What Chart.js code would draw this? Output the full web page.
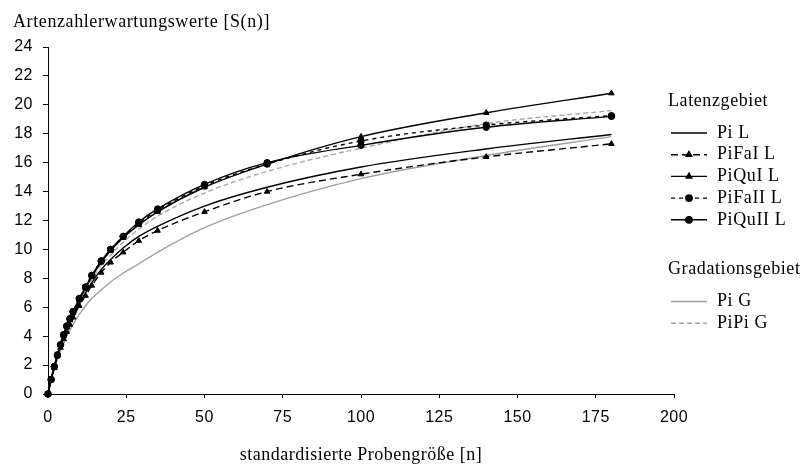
<!DOCTYPE html>
<html>
<head>
<meta charset="utf-8">
<title>Artenzahlerwartungswerte</title>
<script src="https://cdn.jsdelivr.net/npm/chart.js@4.4.0/dist/chart.umd.min.js"></script>
<style>
  html, body { margin: 0; padding: 0; background: #fff; }
</style>
</head>
<body>
<canvas id="chart" width="803" height="468"></canvas>
<script>
// standardisierte Probengröße n
const sampleSizes = [0, 1, 2, 3, 4, 5, 6, 7, 8, 10, 12, 14, 17, 20, 24, 29, 35, 50, 70, 100, 140, 180];

// Latenzgebiet
const piL     = [0, 1.0, 1.8, 2.6, 3.3, 3.9, 4.4, 4.9, 5.4, 6.2, 7.0, 7.7, 8.6, 9.3, 10.1, 10.9, 11.6, 13.0, 14.3, 15.7, 16.95, 17.95];
const piFaIL  = [0, 1.0, 1.8, 2.6, 3.2, 3.8, 4.3, 4.8, 5.3, 6.1, 6.8, 7.5, 8.4, 9.1, 9.8, 10.6, 11.3, 12.6, 14.0, 15.2, 16.4, 17.3];
const piQuIL  = [0, 1.0, 1.9, 2.7, 3.4, 4.0, 4.6, 5.1, 5.6, 6.5, 7.3, 8.1, 9.1, 9.9, 10.8, 11.7, 12.6, 14.3, 15.9, 17.8, 19.45, 20.8];
const piFaIIL = [0, 1.0, 1.9, 2.7, 3.4, 4.1, 4.7, 5.2, 5.7, 6.6, 7.4, 8.2, 9.2, 10.0, 10.9, 11.8, 12.7, 14.4, 15.9, 17.5, 18.6, 19.25];
const piQuIIL = [0, 1.0, 1.9, 2.7, 3.4, 4.1, 4.7, 5.2, 5.7, 6.6, 7.4, 8.2, 9.2, 10.0, 10.9, 11.9, 12.8, 14.5, 16.0, 17.2, 18.45, 19.2];

// Gradationsgebiet
const piG     = [0, 1.0, 1.7, 2.4, 3.0, 3.5, 4.0, 4.4, 4.8, 5.5, 6.1, 6.6, 7.2, 7.75, 8.35, 9.0, 9.8, 11.5, 13.1, 14.9, 16.5, 17.8];
const piPiG   = [0, 1.0, 1.9, 2.6, 3.3, 3.9, 4.5, 5.0, 5.5, 6.4, 7.2, 7.9, 8.9, 9.6, 10.5, 11.4, 12.3, 13.9, 15.4, 17.0, 18.7, 19.6];

const xTickValues = [0, 25, 50, 75, 100, 125, 150, 175, 200];
const yTickValues = [0, 2, 4, 6, 8, 10, 12, 14, 16, 18, 20, 22, 24];

const yTitle = 'Artenzahlerwartungswerte [S(n)]';
const xTitle = 'standardisierte Probengröße [n]';
const groupTitles = ['Latenzgebiet', 'Gradationsgebiet'];

const serifFont = '"Liberation Serif", "Times New Roman", serif';
const sansFont = '"Liberation Sans", Arial, sans-serif';

const toPoints = function(values) {
    return sampleSizes.map((n, i) => ({ x: n, y: values[i] }));
};

const series = [
    { label: 'Pi L',     data: piL,     group: 0, color: '#000', dash: [],     marker: false },
    { label: 'PiFaI L',  data: piFaIL,  group: 0, color: '#000', dash: [7, 4], marker: 'triangle' },
    { label: 'PiQuI L',  data: piQuIL,  group: 0, color: '#000', dash: [],     marker: 'triangle' },
    { label: 'PiFaII L', data: piFaIIL, group: 0, color: '#000', dash: [4, 4], marker: 'circle' },
    { label: 'PiQuII L', data: piQuIIL, group: 0, color: '#000', dash: [],     marker: 'circle' },
    { label: 'Pi G',     data: piG,     group: 1, color: '#a0a0a0', dash: [],     marker: false },
    { label: 'PiPi G',   data: piPiG,   group: 1, color: '#a8a8a8', dash: [5, 3], marker: false }
];

const datasets = series.map(s => ({
    label: s.label,
    data: toPoints(s.data),
    borderColor: s.color,
    backgroundColor: s.color,
    borderWidth: 1.4,
    borderDash: s.dash,
    pointStyle: s.marker || 'circle',
    pointRadius: s.marker ? 3.2 : 0,
    pointHoverRadius: 0,
    pointBorderWidth: 1,
    cubicInterpolationMode: 'monotone',
    clip: false
}));

// the reference text is a bit wider spaced than Liberation
const spacing = {
    id: 'spacing',
    beforeDraw(chart) {
        chart.ctx.letterSpacing = '0.5px';
    }
};

// y title top left + grouped legend on the right
const extraText = {
    id: 'extraText',
    afterDraw(chart) {
        const ctx = chart.ctx;
        ctx.save();
        ctx.letterSpacing = '0.6px';
        ctx.fillStyle = '#000';
        ctx.textBaseline = 'middle';
        ctx.textAlign = 'left';
        ctx.font = '18px ' + serifFont;
        ctx.fillText(yTitle, 13, 22);

        const headerX = 668, lineX0 = 671, lineX1 = 707, textX = 717;
        let y = 101;
        groupTitles.forEach((title, g) => {
            ctx.fillStyle = '#000';
            ctx.fillText(title, headerX, y);
            y += 32;
            series.forEach((s, i) => {
                if (s.group !== g) return;
                const ds = chart.data.datasets[i];
                ctx.strokeStyle = ds.borderColor;
                ctx.lineWidth = ds.borderWidth;
                ctx.setLineDash(ds.borderDash);
                ctx.beginPath();
                ctx.moveTo(lineX0, y);
                ctx.lineTo(lineX1, y);
                ctx.stroke();
                ctx.setLineDash([]);
                if (s.marker) {
                    ctx.fillStyle = ds.backgroundColor;
                    Chart.helpers.drawPoint(ctx, {
                        pointStyle: s.marker, radius: 3.2, rotation: 0, borderWidth: 1
                    }, (lineX0 + lineX1) / 2, y);
                }
                ctx.fillStyle = '#000';
                ctx.fillText(s.label, textX, y);
                y += 21.7;
            });
            y += 28;
        });
        ctx.restore();
    }
};

new Chart(document.getElementById('chart'), {
    type: 'line',
    data: { datasets: datasets },
    options: {
        responsive: false,
        animation: false,
        events: [],
        layout: { padding: { top: 47, right: 129, bottom: 0, left: 0 } },
        plugins: {
            legend: { display: false },
            tooltip: { enabled: false }
        },
        scales: {
            x: {
                type: 'linear',
                min: 0,
                max: 200,
                afterBuildTicks: scale => { scale.ticks = xTickValues.map(v => ({ value: v })); },
                afterFit: scale => { scale.height = 74; },
                grid: { drawOnChartArea: false, drawTicks: true, tickLength: 4, color: '#000' },
                border: { display: true, color: '#000', width: 1 },
                ticks: { color: '#000', font: { family: sansFont, size: 16 }, padding: 10, maxRotation: 0 },
                title: { display: true, text: xTitle, color: '#000', font: { family: serifFont, size: 18 }, padding: { top: 0, bottom: 2 } }
            },
            y: {
                type: 'linear',
                min: 0,
                max: 24,
                afterBuildTicks: scale => { scale.ticks = yTickValues.map(v => ({ value: v })); },
                afterFit: scale => { scale.width = 48; },
                grid: { drawOnChartArea: false, drawTicks: true, tickLength: 5, color: '#000' },
                border: { display: true, color: '#000', width: 1 },
                ticks: { color: '#000', font: { family: sansFont, size: 16 }, padding: 10 }
            }
        }
    },
    plugins: [spacing, extraText]
});
</script>
</body>
</html>
